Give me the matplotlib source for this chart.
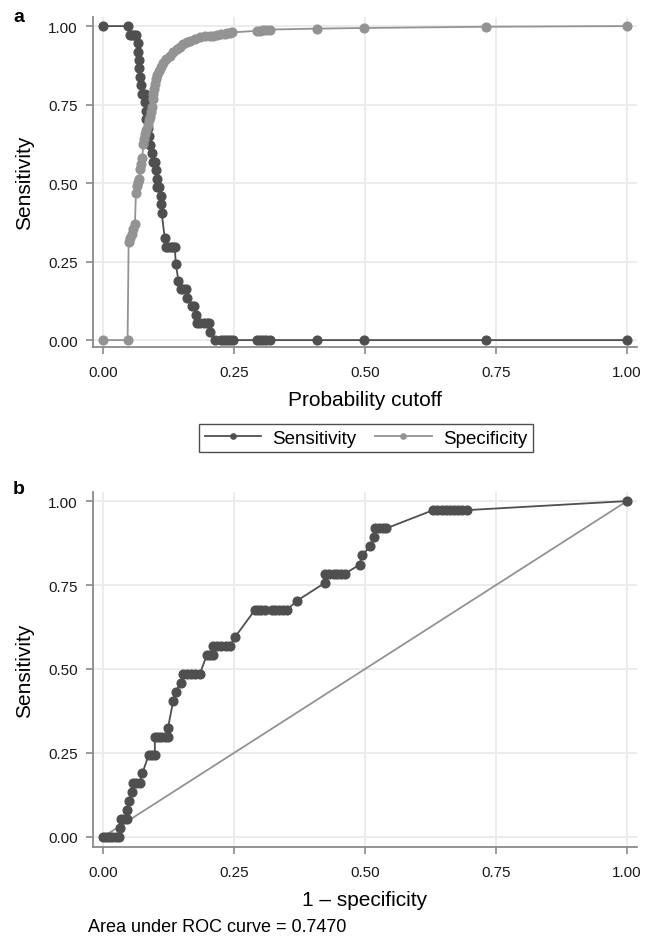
import numpy as np
import matplotlib
matplotlib.use('Agg')
import matplotlib.pyplot as plt

plt.rc('font', family=['Liberation Sans', 'DejaVu Sans'], size=11)

# panel a: sensitivity / specificity against probability cutoff
sens_cut = [0.000, 0.047, 0.051, 0.055, 0.059, 0.063, 0.066, 0.067, 0.068, 0.069,
            0.070, 0.072, 0.074, 0.077, 0.080, 0.081, 0.082, 0.083, 0.085, 0.088,
            0.090, 0.093, 0.096, 0.099, 0.101, 0.103, 0.104, 0.107, 0.110, 0.111,
            0.112, 0.118, 0.121, 0.125, 0.129, 0.133, 0.137, 0.139, 0.144, 0.148,
            0.153, 0.158, 0.161, 0.169, 0.174, 0.178, 0.180, 0.186, 0.192, 0.198,
            0.203, 0.205, 0.214, 0.226, 0.231, 0.237, 0.243, 0.249, 0.293, 0.299,
            0.305, 0.311, 0.318, 0.408, 0.499, 0.730, 1.000]
sens_val = [1.000, 1.000, 0.973, 0.973, 0.973, 0.973, 0.946, 0.919, 0.892, 0.865,
            0.838, 0.811, 0.784, 0.784, 0.784, 0.757, 0.730, 0.703, 0.676, 0.649,
            0.622, 0.595, 0.568, 0.568, 0.541, 0.514, 0.486, 0.486, 0.459, 0.432,
            0.405, 0.324, 0.297, 0.297, 0.297, 0.297, 0.297, 0.243, 0.189, 0.162,
            0.162, 0.162, 0.135, 0.108, 0.108, 0.081, 0.054, 0.054, 0.054, 0.054,
            0.054, 0.027, 0.000, 0.000, 0.000, 0.000, 0.000, 0.000, 0.000, 0.000,
            0.000, 0.000, 0.000, 0.000, 0.000, 0.000, 0.000]

spec_cut = [0.000, 0.047, 0.049, 0.052, 0.055, 0.058, 0.061, 0.063, 0.065, 0.067,
            0.069, 0.071, 0.073, 0.075, 0.077, 0.079, 0.080, 0.083, 0.085, 0.088,
            0.090, 0.092, 0.093, 0.095, 0.096, 0.097, 0.099, 0.101, 0.104, 0.106,
            0.110, 0.115, 0.121, 0.128, 0.134, 0.141, 0.147, 0.153, 0.160, 0.166,
            0.175, 0.185, 0.195, 0.204, 0.210, 0.217, 0.226, 0.232, 0.236, 0.242,
            0.247, 0.293, 0.299, 0.305, 0.311, 0.318, 0.408, 0.499, 0.730, 1.000]
spec_val = [0.000, 0.000, 0.313, 0.325, 0.338, 0.354, 0.370, 0.470, 0.490, 0.503,
            0.513, 0.545, 0.560, 0.580, 0.624, 0.640, 0.656, 0.670, 0.685, 0.700,
            0.709, 0.725, 0.741, 0.768, 0.785, 0.800, 0.815, 0.831, 0.845, 0.858,
            0.870, 0.884, 0.895, 0.905, 0.916, 0.927, 0.935, 0.943, 0.948, 0.953,
            0.958, 0.964, 0.967, 0.969, 0.970, 0.971, 0.974, 0.975, 0.977, 0.978,
            0.980, 0.985, 0.986, 0.987, 0.988, 0.989, 0.992, 0.994, 0.998, 1.000]

# panel b: ROC curve
roc_x = [0.000, 0.006, 0.012, 0.018, 0.024, 0.030, 0.032, 0.034, 0.040, 0.046,
         0.046, 0.050, 0.055, 0.058, 0.064, 0.070, 0.075, 0.087, 0.093, 0.099,
         0.099, 0.105, 0.111, 0.118, 0.124, 0.124, 0.134, 0.139, 0.148, 0.152,
         0.160, 0.168, 0.176, 0.185, 0.198, 0.204, 0.210, 0.210, 0.218, 0.226,
         0.234, 0.242, 0.252, 0.290, 0.296, 0.302, 0.309, 0.322, 0.329, 0.336,
         0.344, 0.351, 0.370, 0.424, 0.424, 0.432, 0.440, 0.447, 0.455, 0.462,
         0.490, 0.494, 0.510, 0.517, 0.519, 0.526, 0.534, 0.541, 0.630, 0.638,
         0.646, 0.654, 0.662, 0.670, 0.678, 0.686, 0.694, 1.000]
roc_y = [0.000, 0.000, 0.000, 0.000, 0.000, 0.000, 0.027, 0.054, 0.054, 0.054,
         0.081, 0.108, 0.135, 0.162, 0.162, 0.162, 0.189, 0.243, 0.243, 0.243,
         0.297, 0.297, 0.297, 0.297, 0.297, 0.324, 0.405, 0.432, 0.459, 0.486,
         0.486, 0.486, 0.486, 0.486, 0.541, 0.541, 0.541, 0.568, 0.568, 0.568,
         0.568, 0.568, 0.595, 0.676, 0.676, 0.676, 0.676, 0.676, 0.676, 0.676,
         0.676, 0.676, 0.703, 0.757, 0.784, 0.784, 0.784, 0.784, 0.784, 0.784,
         0.811, 0.838, 0.865, 0.892, 0.919, 0.919, 0.919, 0.919, 0.973, 0.973,
         0.973, 0.973, 0.973, 0.973, 0.973, 0.973, 0.973, 1.000]
auc = 0.7470

ticks = [0, 0.25, 0.5, 0.75, 1]
tick_labels = ['0.00', '0.25', '0.50', '0.75', '1.00']

dark = '#4f4f4f'
light = '#939393'

W, H = 646, 945
fig = plt.figure(figsize=(W / 100, H / 100), dpi=100)
ax1 = fig.add_axes([93 / W, 1 - 348 / H, 544 / W, 330 / H])
ax2 = fig.add_axes([93 / W, 1 - 848 / H, 544 / W, 355 / H])


def style(ax, ylim):
    ax.set_xlim(-0.019, 1.019)
    ax.set_ylim(*ylim)
    ax.set_xticks(ticks)
    ax.set_xticklabels(tick_labels)
    ax.set_yticks(ticks)
    ax.set_yticklabels(tick_labels)
    ax.grid(color='#ebebeb', linewidth=1.3)
    ax.set_axisbelow(True)
    for s in ['top', 'right']:
        ax.spines[s].set_visible(False)
    for s in ['left', 'bottom']:
        ax.spines[s].set_color('#8a8a8a')
        ax.spines[s].set_linewidth(1.3)
    ax.tick_params(length=5, width=1.2, color='#8a8a8a', labelsize=11,
                   labelcolor='#1a1a1a')
    ax.tick_params(axis='x', pad=8)
    ax.tick_params(axis='y', pad=6)
    ax.set_ylabel('Sensitivity', fontsize=15, labelpad=10)


style(ax1, (-0.022, 1.029))
p1, = ax1.plot(sens_cut, sens_val, '-o', color=dark, markersize=6.3, linewidth=1.3)
p2, = ax1.plot(spec_cut, spec_val, '-o', color=light, markersize=6.3, linewidth=1.3)
ax1.set_xlabel('Probability cutoff', fontsize=15, labelpad=8)
fig.legend((p1, p2), ('Sensitivity', 'Specificity'), loc='center',
           bbox_to_anchor=(366 / W, 1 - 439 / H), ncol=2, fontsize=13.5,
           frameon=True, fancybox=False, edgecolor='#222222', markerscale=0.6,
           handlelength=3.0, handletextpad=0.6, columnspacing=1.0,
           borderpad=0.3)

style(ax2, (-0.030, 1.027))
ax2.plot([0, 1], [0, 1], '-', color=light, linewidth=1.3)
ax2.plot(roc_x, roc_y, '-o', color=dark, markersize=6.3, linewidth=1.3)
ax2.set_xlabel('1 \u2013 specificity', fontsize=15, labelpad=8)

fig.text(13 / W, 1 - 17 / H, 'a', fontsize=14, fontweight='bold', va='center')
fig.text(13 / W, 1 - 490 / H, 'b', fontsize=14, fontweight='bold', va='center')
fig.text(88 / W, 1 - 928 / H, 'Area under ROC curve = %.4f' % auc, fontsize=13,
         va='center')

plt.savefig('out.png', dpi=100)
